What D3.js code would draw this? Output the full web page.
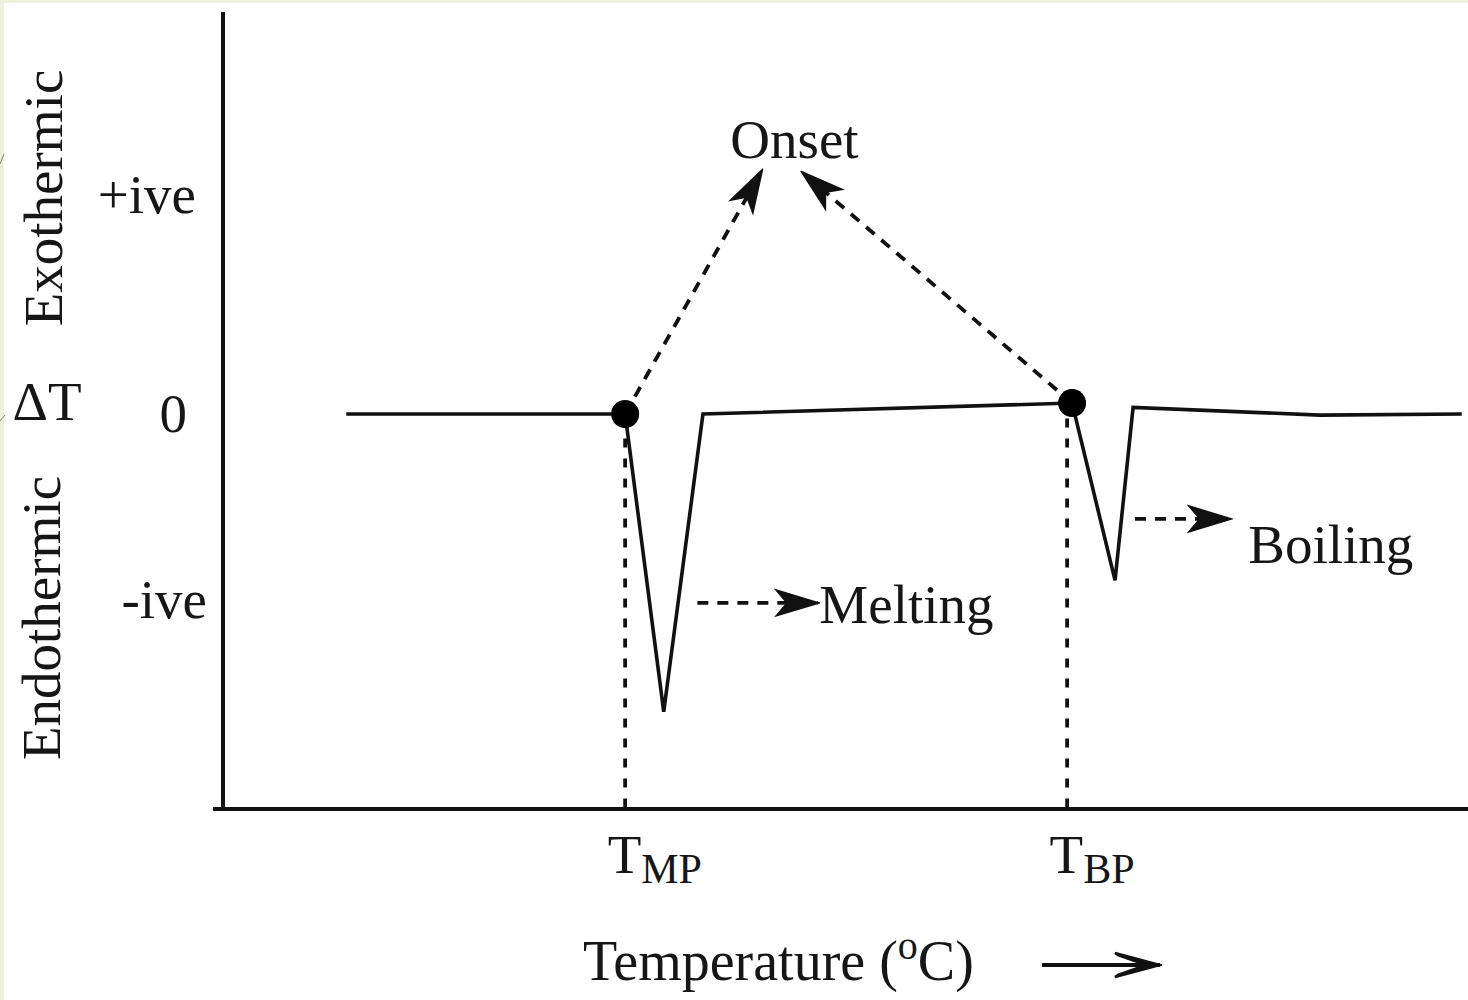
<!DOCTYPE html>
<html>
<head>
<meta charset="utf-8">
<script src="https://cdn.jsdelivr.net/npm/d3@7"></script>
<style>
  html, body { margin: 0; padding: 0; background: #eef1df; }
  svg { display: block; }
  text { font-family: "Liberation Serif", "Times New Roman", serif; fill: #161616; }
</style>
</head>
<body>
<svg id="chart" width="1468" height="1000"></svg>
<script>
// DTA thermogram: ΔT against temperature (arbitrary units)
const traceTemp  = [9.9, 32.3, 35.4, 38.55, 68.2, 71.65, 73.1, 88.1, 99.5];
const traceDelta = [0,   0,   -1.36, 0,     0.05, -0.76, 0.03, -0.005, 0];

// Onset points (filled markers)
const onsetTemp  = [32.3, 68.2];
const onsetDelta = [0, 0.05];

// Characteristic temperatures on the x axis
const xTickValues = [32.3, 67.8];
const xTickMain   = ["T", "T"];
const xTickSub    = ["MP", "BP"];

// ΔT axis labels
const yTickValues = [1, 0, -0.85];
const yTickLabels = ["+ive", "0", "-ive"];

// Annotation arrows: [x, y] in data units
const onsetArrowFrom = [[32.3, 0], [68.2, 0.05]];
const onsetArrowTo   = [[43.3, 1.114], [46.5, 1.105]];
const peakArrowFrom  = [[38.1, -0.863], [73.25, -0.479]];
const peakArrowTo    = [[47.95, -0.863], [81.1, -0.479]];
const peakLabels     = ["Melting", "Boiling"];

const svg = d3.select("#chart");
const W = 1468, H = 1000;

// white plotting sheet over the tinted page edge
svg.append("rect").attr("x", 4).attr("y", 3).attr("width", W - 4).attr("height", H - 3).attr("fill", "#ffffff");
svg.append("path").attr("d", "M0,164 L4,154").attr("stroke", "#8a8060").attr("stroke-width", 1).attr("fill", "none");
svg.append("path").attr("d", "M0,421 L5,415").attr("stroke", "#8a8060").attr("stroke-width", 1).attr("fill", "none");

const x = d3.scaleLinear().domain([0, 100]).range([223, 1468]);
const y = d3.scaleLinear().domain([-1.804, 1.836]).range([809, 12]);

const ink = "#111111";

// arrowhead markers
const defs = svg.append("defs");
defs.append("marker")
  .attr("id", "stealth")
  .attr("markerUnits", "userSpaceOnUse")
  .attr("viewBox", "-44 -15 46 30")
  .attr("refX", 0).attr("refY", 0)
  .attr("markerWidth", 46).attr("markerHeight", 30)
  .attr("orient", "auto")
  .append("path")
  .attr("d", "M1,0 L-42,-13 L-31,0 L-42,13 Z")
  .attr("fill", ink)
  .attr("stroke", ink).attr("stroke-width", 1.5);

defs.append("marker")
  .attr("id", "openhead")
  .attr("markerUnits", "userSpaceOnUse")
  .attr("viewBox", "-50 -16 52 32")
  .attr("refX", 0).attr("refY", 0)
  .attr("markerWidth", 52).attr("markerHeight", 32)
  .attr("orient", "auto")
  .append("path")
  .attr("d", "M-45,-12 L0,0 L-45,12 L-42,10 L-14,0 L-42,-10 Z")
  .attr("fill", ink)
  .attr("stroke", ink).attr("stroke-width", 2.5).attr("stroke-linejoin", "miter");

// axes
const yAxis = d3.axisLeft(y)
  .tickValues(yTickValues)
  .tickFormat((d, i) => yTickLabels[i])
  .tickSize(0).tickSizeOuter(0);
const gy = svg.append("g").attr("transform", `translate(${x(0)},0)`).call(yAxis);
gy.select(".domain").remove();
const yLabelRight = [27, 36, 16];
gy.selectAll(".tick text")
  .attr("x", (d, i) => -yLabelRight[i])
  .attr("dy", "0.32em")
  .style("font-size", "55px")
  .style("font-family", "'Liberation Serif', 'Times New Roman', serif")
  .attr("fill", (d, i) => i === 0 ? "#1c1c30" : "#161616");

const xAxis = d3.axisBottom(x)
  .tickValues(xTickValues)
  .tickFormat("")
  .tickSize(0).tickSizeOuter(0);
const gx = svg.append("g").attr("transform", `translate(0,${y(-1.804)})`).call(xAxis);
gx.select(".domain").remove();
gx.selectAll(".tick text").each(function(d, i) {
  const t = d3.select(this)
    .attr("text-anchor", "start")
    .attr("x", -18)
    .attr("y", 64)
    .attr("dy", null)
    .style("font-size", "55px")
    .style("font-family", "'Liberation Serif', 'Times New Roman', serif")
    .attr("fill", "#161616");
  t.text(null);
  t.append("tspan").text(xTickMain[i]);
  t.append("tspan").attr("dy", 10).style("font-size", "42px").text(xTickSub[i]);
});

// axis lines
svg.append("line")
  .attr("x1", x(0)).attr("x2", x(0))
  .attr("y1", y(1.836)).attr("y2", y(-1.804))
  .attr("stroke", ink).attr("stroke-width", 4);
svg.append("line")
  .attr("x1", x(0) - 10).attr("x2", x(100))
  .attr("y1", y(-1.804)).attr("y2", y(-1.804))
  .attr("stroke", ink).attr("stroke-width", 4);

// dashed drop lines from the onset points to the temperature axis
svg.selectAll(".drop")
  .data(xTickValues)
  .join("line")
  .attr("class", "drop")
  .attr("x1", d => x(d)).attr("x2", d => x(d))
  .attr("y1", y(-0.02)).attr("y2", y(-1.804))
  .attr("stroke", ink).attr("stroke-width", 3.8)
  .attr("stroke-dasharray", "9,11");

// thermogram trace
const line = d3.line().x(d => x(d[0])).y(d => y(d[1]));
svg.append("path")
  .datum(traceTemp.map((t, i) => [t, traceDelta[i]]))
  .attr("d", line)
  .attr("fill", "none")
  .attr("stroke", ink)
  .attr("stroke-width", 3.6)
  .attr("stroke-linejoin", "miter");

// onset arrows
svg.selectAll(".onset-arrow")
  .data(onsetArrowFrom.map((f, i) => [f, onsetArrowTo[i]]))
  .join("line")
  .attr("class", "onset-arrow")
  .attr("x1", d => x(d[0][0])).attr("y1", d => y(d[0][1]))
  .attr("x2", d => x(d[1][0])).attr("y2", d => y(d[1][1]))
  .attr("stroke", ink).attr("stroke-width", 3.8)
  .attr("stroke-dasharray", "11,9")
  .attr("marker-end", "url(#stealth)");

// peak arrows
svg.selectAll(".peak-arrow")
  .data(peakArrowFrom.map((f, i) => [f, peakArrowTo[i]]))
  .join("line")
  .attr("class", "peak-arrow")
  .attr("x1", d => x(d[0][0])).attr("y1", d => y(d[0][1]))
  .attr("x2", d => x(d[1][0]) - 2).attr("y2", d => y(d[1][1]))
  .attr("stroke", ink).attr("stroke-width", 3.8)
  .attr("stroke-dasharray", "11,9")
  .attr("marker-end", "url(#stealth)");

// onset markers
svg.selectAll(".onset-dot")
  .data(onsetTemp.map((t, i) => [t, onsetDelta[i]]))
  .join("circle")
  .attr("class", "onset-dot")
  .attr("cx", d => x(d[0])).attr("cy", d => y(d[1]))
  .attr("r", 14)
  .attr("fill", "#000");

// labels
svg.append("text")
  .attr("x", x(45.9)).attr("y", y(1.169))
  .attr("text-anchor", "middle")
  .style("font-size", "55px")
  .text("Onset");

const peakLabelPos = [[47.9, -0.953], [82.35, -0.68]];
svg.selectAll(".peak-label")
  .data(peakLabels)
  .join("text")
  .attr("class", "peak-label")
  .attr("x", (d, i) => x(peakLabelPos[i][0]))
  .attr("y", (d, i) => y(peakLabelPos[i][1]))
  .style("font-size", "55px")
  .text(d => d);

// ΔT axis titles
svg.append("text")
  .attr("x", 47).attr("y", 420)
  .attr("text-anchor", "middle")
  .style("font-size", "55px")
  .text("ΔT");
svg.append("text")
  .attr("transform", "translate(62,198) rotate(-90)")
  .attr("text-anchor", "middle")
  .style("font-size", "55px")
  .text("Exothermic");
svg.append("text")
  .attr("transform", "translate(60,618) rotate(-90)")
  .attr("text-anchor", "middle")
  .style("font-size", "55px")
  .text("Endothermic");

// temperature axis title
const tt = svg.append("text")
  .attr("x", 583).attr("y", 980)
  .style("font-size", "56px");
tt.append("tspan").text("Temperature (");
tt.append("tspan").attr("dy", -21).style("font-size", "40px").text("o");
tt.append("tspan").attr("dy", 21).text("C)");

svg.append("line")
  .attr("x1", 1042).attr("x2", 1160)
  .attr("y1", 965).attr("y2", 965)
  .attr("stroke", ink).attr("stroke-width", 3.8)
  .attr("marker-end", "url(#openhead)");
</script>
</body>
</html>
